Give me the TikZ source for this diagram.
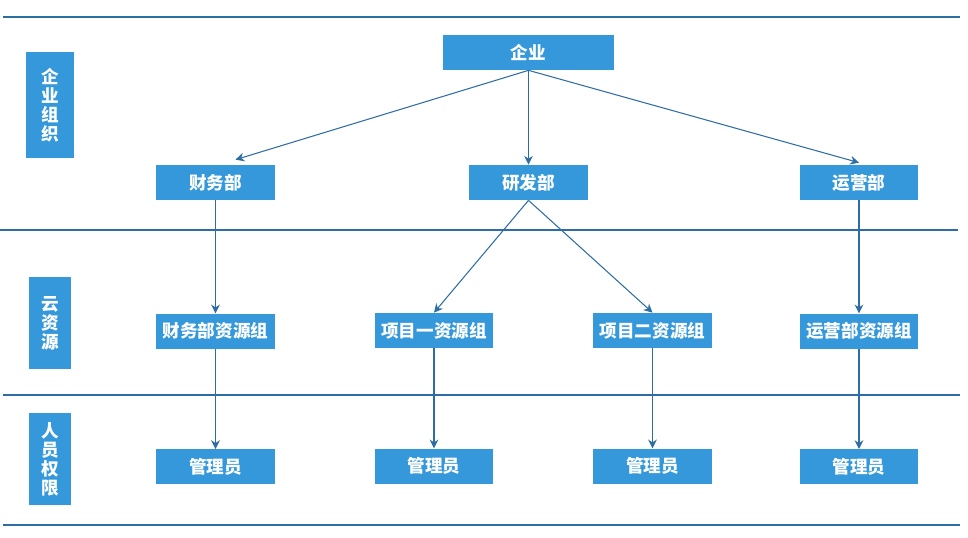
\documentclass[tikz,border=0pt]{standalone}
\usepackage{fontspec}
\setmainfont{Noto Sans CJK SC}
\usetikzlibrary{arrows.meta,positioning}
\definecolor{BoxBlue}{HTML}{3498DB}
\definecolor{LineBlue}{HTML}{2E6DA4}
\tikzset{
  >={Stealth[length=5pt,width=5pt]},
  node distance=2cm,
  unitbox/.style={
    fill=BoxBlue,
    text=white,
    minimum width=2.38cm,
    minimum height=0.7cm,
    inner sep=0pt,
    font=\fontsize{10}{12}\selectfont\bfseries
  },
  rootbox/.style={unitbox, minimum width=3.42cm},
  layerbox/.style={
    fill=BoxBlue,
    text=white,
    align=center,
    inner sep=0pt,
    font=\fontsize{10}{10.8}\selectfont\bfseries
  },
  arrow/.style={->, draw=LineBlue, line width=0.6pt},
  divider/.style={draw=LineBlue, line width=0.6pt}
}

\begin{document}
\begin{tikzpicture}[x=0.02cm, y=-0.02cm]
  \useasboundingbox (0,0) rectangle (968,538);

  % layer separators
  \draw[divider] (3,17) -- (960,17);
  \draw[divider] (0,230) -- (958,230);
  \draw[divider] (3,395) -- (960,395);
  \draw[divider] (3,525) -- (960,525);

  % layer labels
  \node[layerbox, minimum width=0.96cm, minimum height=2.12cm] (org) at (50,105) {企\\业\\组\\织};
  \node[layerbox, minimum width=0.84cm, minimum height=1.84cm] (cloud) at (50,323) {云\\资\\源};
  \node[layerbox, minimum width=0.84cm, minimum height=1.84cm] (perm) at (50,459) {人\\员\\权\\限};

  % organisation
  \node[rootbox] (qiye) at (528.5,52.5) {企业};
  \node[unitbox] (caiwu) at (215.5,182.5) {财务部};
  \node[unitbox] (yanfa) at (528.5,182.5) {研发部};
  \node[unitbox] (yunying) at (859,182.5) {运营部};

  % resource groups
  \node[unitbox, below=2.26cm of caiwu] (caiwures) {财务部资源组};
  \node[unitbox] (xm1res) at (434,330.5) {项目一资源组};
  \node[unitbox] (xm2res) at (652.5,330.5) {项目二资源组};
  \node[unitbox, below=2.26cm of yunying] (yunyingres) {运营部资源组};

  % admins
  \node[unitbox, below=of caiwures] (admin1) {管理员};
  \node[unitbox, below=of xm1res] (admin2) {管理员};
  \node[unitbox, below=of xm2res] (admin3) {管理员};
  \node[unitbox, below=of yunyingres] (admin4) {管理员};

  \draw[arrow] (qiye.south) -- ([xshift=0.4cm,yshift=0.1cm]caiwu.north);
  \draw[arrow] (qiye.south) -- (yanfa.north);
  \draw[arrow] (qiye.south) -- ([yshift=0.04cm]yunying.north);
  \draw[arrow] (caiwu) -- (caiwures);
  \draw[arrow] (yanfa.south) -- (xm1res.north);
  \draw[arrow] (yanfa.south) -- (xm2res.north);
  \draw[arrow] (yunying) -- (yunyingres);
  \draw[arrow] (caiwures) -- (admin1);
  \draw[arrow] (xm1res) -- (admin2);
  \draw[arrow] (xm2res) -- (admin3);
  \draw[arrow] (yunyingres) -- (admin4);
\end{tikzpicture}
\end{document}
